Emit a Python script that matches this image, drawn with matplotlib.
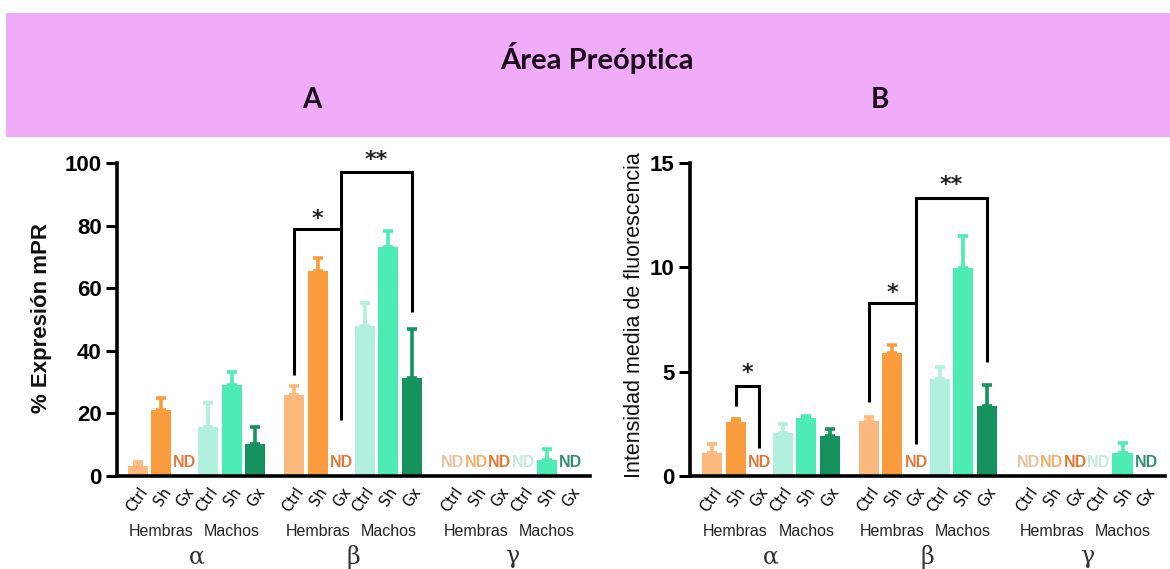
import numpy as np
import matplotlib
matplotlib.use("Agg")
import matplotlib.pyplot as plt
from matplotlib.patches import Rectangle

# ---------------- data ----------------
receptors = ["α", "β", "γ"]
sexes = ["Hembras", "Machos"]
treatments = ["Ctrl", "Sh", "Gx"]

# Panel A: % Expresión mPR  (order per receptor: H-Ctrl, H-Sh, H-Gx, M-Ctrl, M-Sh, M-Gx), nan = ND
alpha_A = [3.2, 21.1, np.nan, 15.8, 29.1, 10.2]
alpha_A_err = [1.4, 3.8, np.nan, 7.5, 4.1, 5.6]
beta_A = [25.9, 65.5, np.nan, 48.0, 73.3, 31.2]
beta_A_err = [3.0, 4.0, np.nan, 7.2, 5.1, 15.8]
gamma_A = [np.nan, np.nan, np.nan, np.nan, 5.1, np.nan]
gamma_A_err = [np.nan, np.nan, np.nan, np.nan, 3.4, np.nan]

# Panel B: Intensidad media de fluorescencia
alpha_B = [1.09, 2.60, np.nan, 2.04, 2.76, 1.93]
alpha_B_err = [0.44, 0.11, np.nan, 0.43, 0.11, 0.33]
beta_B = [2.63, 5.87, np.nan, 4.63, 9.94, 3.35]
beta_B_err = [0.21, 0.40, np.nan, 0.60, 1.56, 1.00]
gamma_B = [np.nan, np.nan, np.nan, np.nan, 1.09, np.nan]
gamma_B_err = [np.nan, np.nan, np.nan, np.nan, 0.51, np.nan]

bar_colors = ["#FBB97D", "#FA9C3E", "#E07A3A", "#B1F0DC", "#4DECB4", "#15925E"]
nd_colors_main = ["#FBB97D", "#FA9C3E", "#E07A3A", "#B1F0DC", "#4DECB4", "#15925E"]
nd_colors_gamma = ["#E6C4A2", "#F2AE6C", "#E2782E", "#C6E9DE", "#4DECB4", "#2E8F6E"]

# significance brackets: (group, idx_left, y_left_bottom, idx_right, y_right_bottom, y_top, star, star_y)
sig_A = [(1, 0, 32.3, 2, 17.9, 78.8, "*", 82.0),
         (1, 2, 78.8, 5, 52.3, 97.0, "**", 101.0)]
sig_B = [(0, 1, 3.36, 2, 1.32, 4.32, "*", 4.93),
         (1, 0, 3.56, 2, 1.53, 8.26, "*", 8.76),
         (1, 2, 8.26, 5, 5.47, 13.29, "**", 13.92)]

# ---------------- layout ----------------
W, H = 1170, 569
fig = plt.figure(figsize=(W / 100, H / 100), dpi=100)
fig.patch.set_facecolor("white")
fig.patches.append(Rectangle((6 / W, 1 - 137 / H), 1164 / W, 124 / H,
                             transform=fig.transFigure, facecolor="#F0ACF8",
                             edgecolor="none", zorder=0))
fig.text(597 / W, 1 - 58 / H, "Área Preóptica", ha="center", va="center",
         fontsize=21, fontweight="bold", family=["Lato", "DejaVu Sans"], color="#1a0a1a")
fig.text(312 / W, 1 - 100 / H, "A", ha="center", va="center",
         fontsize=20, fontweight="bold", family=["Lato", "DejaVu Sans"], color="#1a0a1a")
fig.text(880 / W, 1 - 100 / H, "B", ha="center", va="center",
         fontsize=20, fontweight="bold", family=["Lato", "DejaVu Sans"], color="#1a0a1a")

group_offsets = [0.0, 6.65, 13.4]
bar_w = 0.85
PX = 0.72  # points per pixel


def draw_panel(ax, series, errs, ylim, yticks, sigs, nd_px):
    for gi, (vals, ers) in enumerate(zip(series, errs)):
        off = group_offsets[gi]
        nd_cols = nd_colors_gamma if gi == 2 else nd_colors_main
        for i in range(6):
            x = off + i
            v = vals[i]
            if np.isnan(v):
                ax.annotate("ND", xy=(x, 0), xytext=(0, nd_px * PX), textcoords="offset points",
                            ha="center", va="baseline", fontsize=11.5, fontweight="bold",
                            color=nd_cols[i], family=["Liberation Sans Narrow", "Liberation Sans"],
                            annotation_clip=False)
            else:
                ax.bar(x, v, width=bar_w, color=bar_colors[i], edgecolor="none", zorder=2)
                ax.errorbar(x, v, yerr=[[0], [ers[i]]], fmt="none", ecolor=bar_colors[i],
                            elinewidth=2.6, capsize=3.6, capthick=2.6, zorder=2)
    # significance
    for (g, il, yl, ir, yr, yt, star, sy) in sigs:
        xl = group_offsets[g] + il
        xr = group_offsets[g] + ir
        ax.plot([xl, xl, xr, xr], [yl, yt, yt, yr], color="black", lw=2.2,
                solid_capstyle="butt", solid_joinstyle="miter", clip_on=False, zorder=3)
        ax.text((xl + xr) / 2, sy, star, ha="center", va="center", fontsize=16,
                fontweight="bold", color="#222222", clip_on=False)
    # ticks
    xs, labs = [], []
    for gi in range(3):
        for i in range(6):
            xs.append(group_offsets[gi] + i)
            labs.append(treatments[i % 3])
    ax.set_xticks(xs)
    ax.set_xticklabels(labs, rotation=55, ha="right", va="top", rotation_mode="anchor",
                       fontsize=10.5, family=["DejaVu Sans"])
    ax.tick_params(axis="x", length=0, pad=6)
    ax.set_ylim(*ylim)
    ax.set_yticks(yticks)
    ax.set_yticklabels([str(t) for t in yticks], fontsize=16, fontweight="bold",
                       family=["Liberation Sans", "DejaVu Sans"])
    ax.tick_params(axis="y", length=8, width=2.2, pad=3)
    for s in ["top", "right"]:
        ax.spines[s].set_visible(False)
    for s in ["left", "bottom"]:
        ax.spines[s].set_linewidth(2.6)
    ax.set_facecolor("none")
    # group labels
    for gi in range(3):
        off = group_offsets[gi]
        for si, sx in enumerate(sexes):
            ax.annotate(sx, xy=(off + 1 + 3 * si, 0), xycoords=("data", "axes fraction"),
                        xytext=(0, -55 * PX), textcoords="offset points", ha="center", va="center",
                        fontsize=11.5, color="#222222", family=["Liberation Sans", "DejaVu Sans"],
                        annotation_clip=False)
        ax.annotate(receptors[gi], xy=(off + 2.5, 0), xycoords=("data", "axes fraction"),
                    xytext=(0, -81 * PX), textcoords="offset points", ha="center", va="center",
                    fontsize=17, color="#333333", family=["DejaVu Serif"],
                    annotation_clip=False)


axA = fig.add_axes([117 / W, 93 / H, 473 / W, 313 / H])
axA.set_xlim(-0.89, 19.23)
draw_panel(axA, [alpha_A, beta_A, gamma_A], [alpha_A_err, beta_A_err, gamma_A_err],
           (0, 100), [0, 20, 40, 60, 80, 100], sig_A, 9)
fig.text(42 / W, 1 - 318 / H, "% Expresión mPR", rotation=90, ha="center", va="center",
         fontsize=16, fontweight="bold", family=["Liberation Sans", "DejaVu Sans"], color="#111111")

axB = fig.add_axes([690 / W, 93 / H, 475 / W, 313.3 / H])
axB.set_xlim(-0.93, 19.2)
draw_panel(axB, [alpha_B, beta_B, gamma_B], [alpha_B_err, beta_B_err, gamma_B_err],
           (0, 15), [0, 5, 10, 15], sig_B, 9)
fig.text(634 / W, 1 - 315 / H, "Intensidad media de fluorescencia", rotation=90,
         ha="center", va="center", fontsize=15.5, family=["Liberation Sans", "DejaVu Sans"],
         color="#111111")

fig.savefig("out.png", dpi=100)
